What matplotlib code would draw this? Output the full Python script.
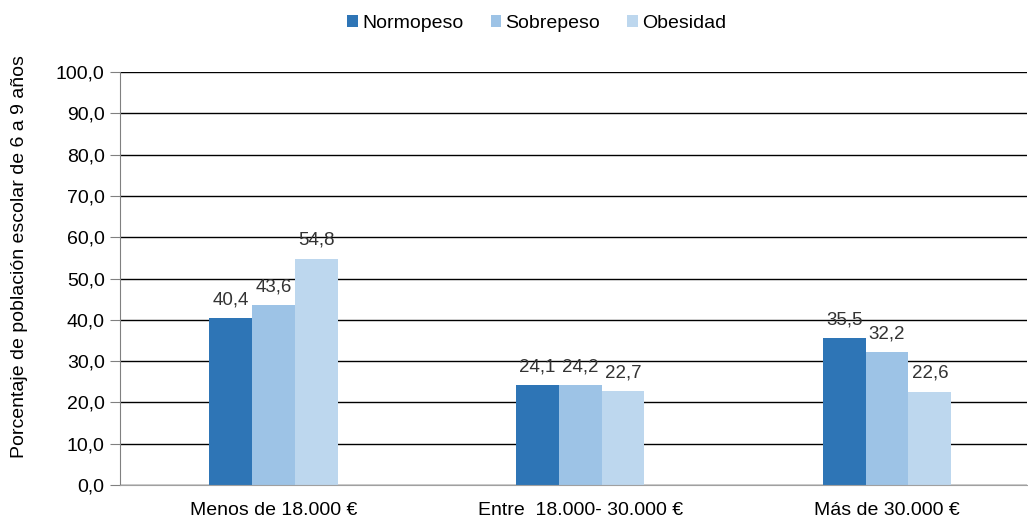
import matplotlib
matplotlib.use("Agg")
import matplotlib.pyplot as plt
import numpy as np

plt.rcParams['font.family'] = ['Liberation Sans', 'DejaVu Sans']

# data
categorias = ['Menos de 18.000 €', 'Entre  18.000- 30.000 €', 'Más de 30.000 €']
series = ['Normopeso', 'Sobrepeso', 'Obesidad']
normopeso = [40.4, 24.1, 35.5]
sobrepeso = [43.6, 24.2, 32.2]
obesidad = [54.8, 22.7, 22.6]
colores = ['#2E75B6', '#9DC3E6', '#BDD7EE']

valores = [normopeso, sobrepeso, obesidad]

fig = plt.figure(figsize=(10.28, 5.17), dpi=100)
ax = fig.add_axes([120 / 1028, 32 / 517, 907 / 1028, 413 / 517])

x = np.arange(len(categorias))
w = 0.1395
for i, (nombre, vals, col) in enumerate(zip(series, valores, colores)):
    pos = x + (i - 1) * w
    bars = ax.bar(pos, vals, w, color=col, label=nombre, zorder=3)
    for b, v in zip(bars, vals):
        ax.annotate(f'{v:.1f}'.replace('.', ','),
                    (b.get_x() + b.get_width() / 2, v),
                    xytext=(0, 7), textcoords='offset points',
                    ha='center', va='bottom', fontsize=13.5, color='#333333',
                    zorder=4)

ax.set_xlim(-0.5, 2.456)
ax.set_ylim(0, 100)
ax.set_yticks(np.arange(0, 101, 10))
ax.set_yticklabels([f'{t:.1f}'.replace('.', ',') for t in np.arange(0, 101, 10)],
                   fontsize=14)
ax.set_xticks(x)
ax.set_xticklabels(categorias, fontsize=14)
ax.tick_params(axis='x', length=0, pad=12)
ax.tick_params(axis='y', length=7, color='#808080', pad=4)

ax.yaxis.grid(True, color='black', linewidth=1, zorder=0)
ax.set_axisbelow(True)
for s in ['top', 'right']:
    ax.spines[s].set_visible(False)
ax.spines['left'].set_color('#808080')
ax.spines['bottom'].set_color('#a0a0a0')
ax.spines['bottom'].set_zorder(5)

ax.set_ylabel('Porcentaje de población escolar de 6 a 9 años', fontsize=14)
ax.yaxis.set_label_coords(-0.101, 0.552)

fig.legend(loc='upper center', bbox_to_anchor=(0.522, 1.005), ncol=3, frameon=False,
           fontsize=14, handlelength=0.55, handleheight=0.55, handletextpad=0.2,
           columnspacing=1.4)

fig.savefig('out.png', dpi=100)
